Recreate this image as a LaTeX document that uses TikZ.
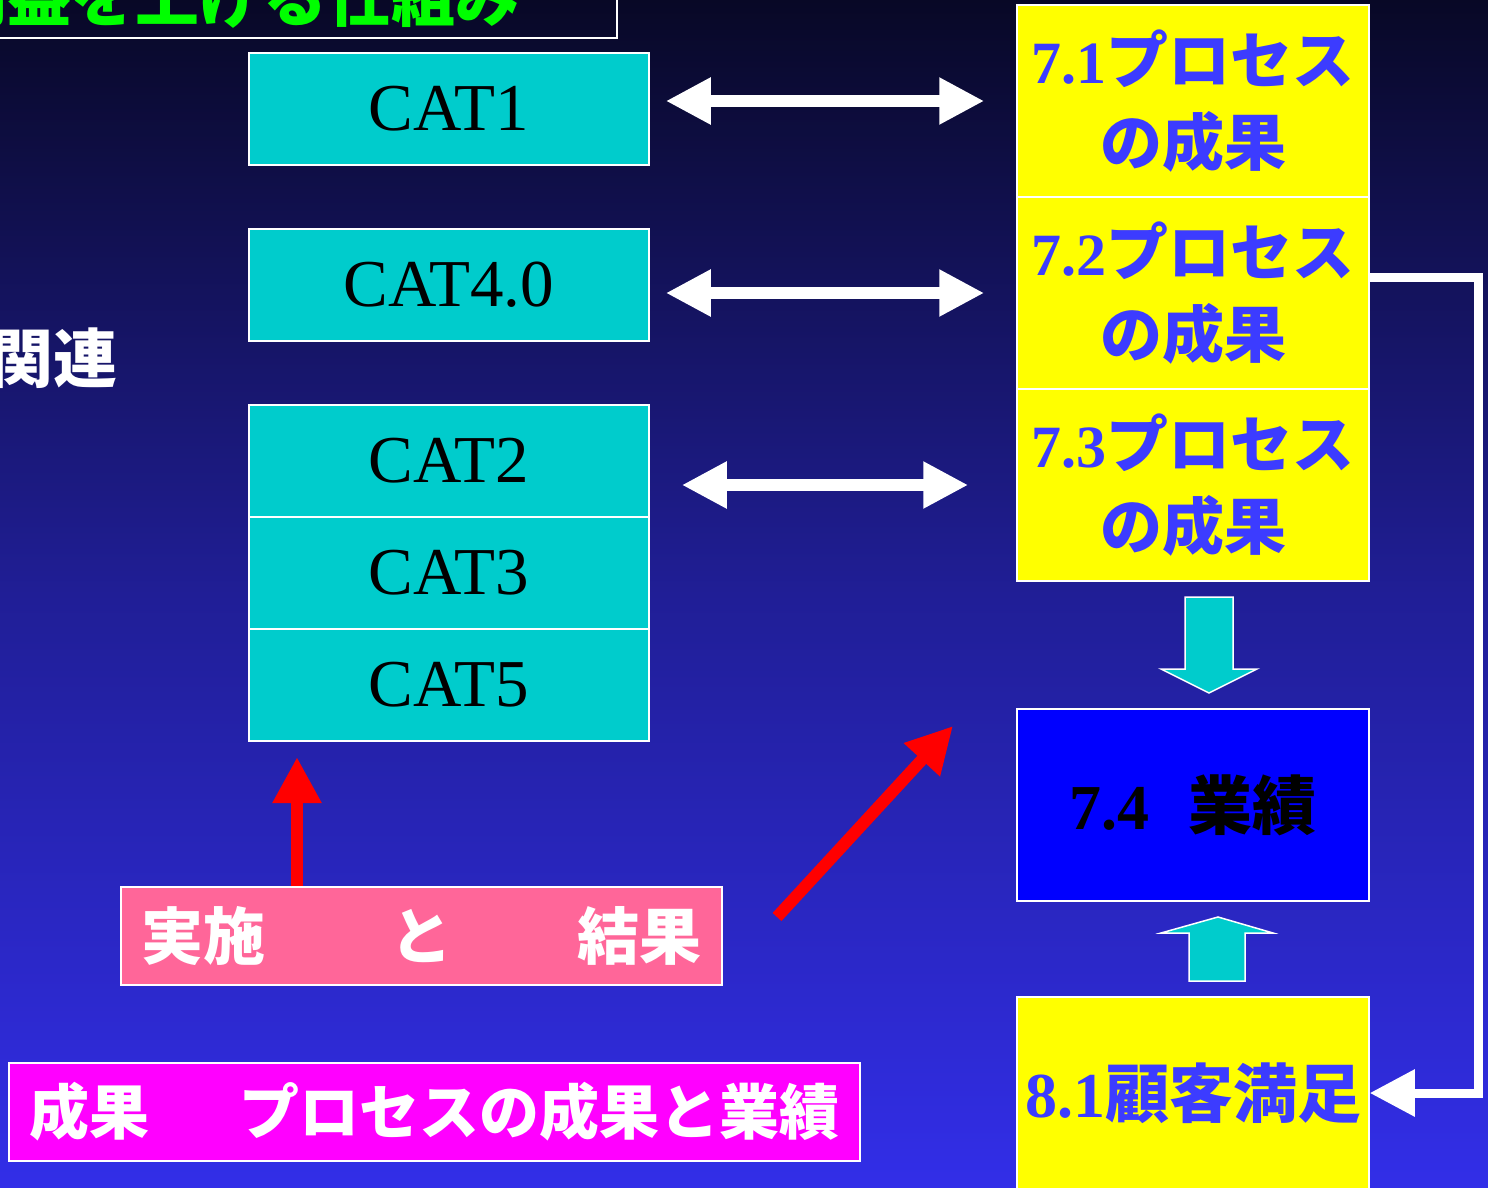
\documentclass[tikz,border=0pt]{standalone}
\usepackage{fontspec}
\setmainfont{Liberation Serif}
\newfontfamily\jp{Noto Sans CJK JP}
\usetikzlibrary{arrows.meta}
\definecolor{bgtop}{RGB}{8,8,38}
\definecolor{bgmid}{RGB}{32,30,150}
\definecolor{bgbot}{RGB}{50,46,232}
\definecolor{catc}{RGB}{0,204,204}
\definecolor{ylw}{RGB}{255,255,0}
\definecolor{btxt}{RGB}{60,60,255}
\definecolor{pinkc}{RGB}{255,102,153}
\definecolor{magc}{RGB}{255,0,255}
\definecolor{grn}{RGB}{0,255,0}
\tikzset{
  catbox/.style={draw=white, line width=1.5pt, fill=catc, minimum width=400pt, minimum height=112pt, inner sep=0pt, text=black, font=\fontsize{67}{80}\selectfont},
  ybox/.style={draw=white, line width=1.5pt, fill=ylw, minimum width=352pt, minimum height=192pt, inner sep=0pt, text=btxt, align=center, font=\fontsize{62}{86}\selectfont\bfseries},
  jpb/.style={font=\fontsize{62}{70}\selectfont\jp\bfseries},
  dbl/.style={draw=white, line width=12pt, {Triangle[length=45pt,width=44pt]}-{Triangle[length=45pt,width=44pt]}},
  redarr/.style={draw=red, line width=12pt, -{Triangle[length=46pt,width=46pt]}},
  blockarr/.style={fill=catc, draw=white, line width=1.5pt},
}
\begin{document}
\begin{tikzpicture}[x=1pt,y=-1pt]
\useasboundingbox (0,0) rectangle (1488,1188);
\clip (0,0) rectangle (1488,1188);
\shade[top color=bgtop, bottom color=bgbot, middle color=bgmid] (0,0) rectangle (1488,1188);

% title (cut off at the top edge, as in the reference)
\draw[white, line width=1.5pt] (-10,-10) -- (617,-10) -- (617,38) -- (-10,38);
\node[anchor=base west, inner sep=0pt, text=grn, font=\fontsize{64}{70}\selectfont\jp\bfseries] (title) at (-57,22) {利益を上げる仕組み};

% left label (cut off at the left edge, as in the reference)
\node[anchor=east, inner sep=0pt, text=white, font=\fontsize{64}{70}\selectfont\jp\bfseries] (rel) at (118,358) {関連};

% CAT boxes
\node[catbox] (cat1) at (449,109) {CAT1};
\node[catbox] (cat40) at (449,285) {CAT4.0};
\node[catbox] (cat2) at (449,461) {CAT2};
\node[catbox] (cat3) at (449,573) {CAT3};
\node[catbox] (cat5) at (449,685) {CAT5};

% yellow boxes
\node[ybox] (b71) at (1193,101) {{\fontsize{60}{86}\selectfont 7.1}{\jp プロセス}\\[-4pt]{\jp の成果}};
\node[ybox] (b72) at (1193,293) {{\fontsize{60}{86}\selectfont 7.2}{\jp プロセス}\\[-4pt]{\jp の成果}};
\node[ybox] (b73) at (1193,485) {{\fontsize{60}{86}\selectfont 7.3}{\jp プロセス}\\[-4pt]{\jp の成果}};
\node[draw=white, line width=1.5pt, fill=blue, minimum width=352pt, minimum height=192pt, inner sep=0pt, text=black, font=\fontsize{64}{70}\selectfont\bfseries] (b74) at (1193,805) {7.4\hspace{0.6em}{\jp 業績}};
\node[draw=white, line width=1.5pt, fill=ylw, minimum width=352pt, minimum height=192pt, inner sep=0pt, text=btxt, font=\fontsize{64}{70}\selectfont\bfseries] (b81) at (1193,1093) {8.1{\jp 顧客満足}};

% pink and magenta boxes
\node[draw=white, line width=1.5pt, fill=pinkc, minimum width=601pt, minimum height=98pt, inner sep=0pt, text=white, jpb, text width=560pt, align=center] (pink) at (421.5,936) {実施\hfill と\hfill 結果};
\node[draw=white, line width=1.5pt, fill=magc, minimum width=851pt, minimum height=98pt, inner sep=0pt, text=white, font=\fontsize{60}{70}\selectfont\jp\bfseries] (mag) at (434.5,1112) {成果\hspace{1.5em}プロセスの成果と業績};

% double arrows
\draw[dbl, shorten <=16pt, shorten >=32pt] (cat1.east |- b71.west) -- (b71.west);
\draw[dbl, shorten <=16pt, shorten >=32pt] (cat40.east |- b72.west) -- (b72.west);
\draw[dbl, shorten <=32pt, shorten >=48pt] (cat2.east |- b73.west) -- (b73.west);

% block arrows
\filldraw[blockarr] (1185,597) -- (1233,597) -- (1233,669) -- (1257,669) -- (1209,693) -- (1161,669) -- (1185,669) -- cycle;
\filldraw[blockarr] (1189,981) -- (1245,981) -- (1245,933) -- (1273,933) -- (1218,917) -- (1161,933) -- (1189,933) -- cycle;

% white feedback connector
\draw[white, line width=9pt, -{Triangle[length=45pt,width=45pt]}] ([yshift=16pt]b72.east) -- ++(109,0) |- (b81.east);

% red arrows
\coordinate (rtip) at (297,757);
\draw[redarr] (pink.north -| rtip) -- (rtip);
\coordinate (dtail) at (777,917);
\coordinate (dtip) at (953,726);
\draw[redarr] (dtail) -- (dtip);
\end{tikzpicture}
\end{document}
